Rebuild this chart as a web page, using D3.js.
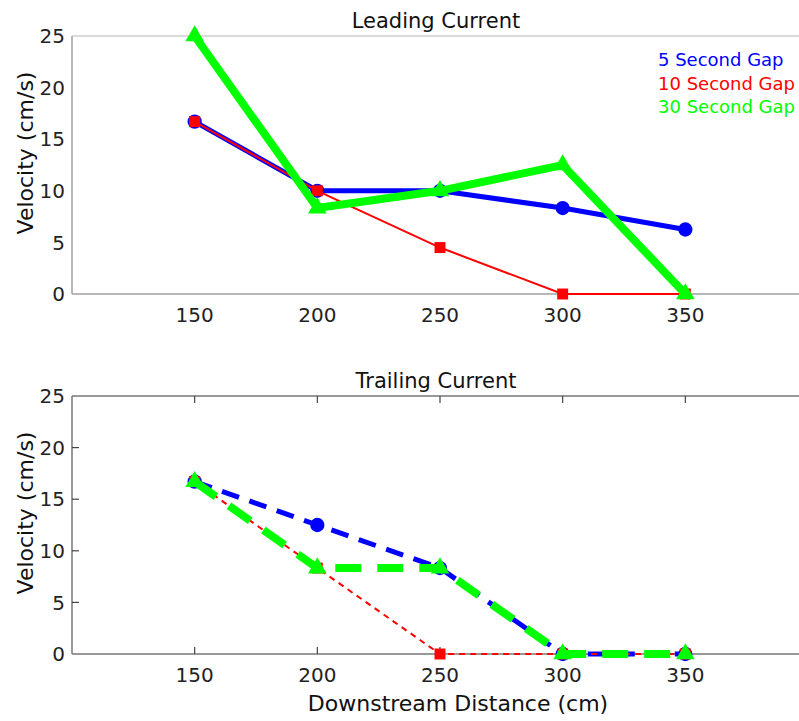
<!DOCTYPE html>
<html>
<head>
<meta charset="utf-8">
<script src="https://cdn.jsdelivr.net/npm/d3@7"></script>
<style>
  body { margin: 0; background: #fff; }
  svg text { font-family: "DejaVu Sans", Verdana, sans-serif; }
</style>
</head>
<body>
<script>
// distances along the flume (cm)
const distances = [150, 200, 250, 300, 350];
const xTicks = [150, 200, 250, 300, 350];
const yTicks = [0, 5, 10, 15, 20, 25];
const seriesNames = ["5 Second Gap", "10 Second Gap", "30 Second Gap"];

// leading current velocities (cm/s)
const lead5 = [16.7, 10, 10, 8.33, 6.25];
const lead10 = [16.7, 10, 4.5, 0, 0];
const lead30 = [25, 8.33, 10, 12.5, 0];

// trailing current velocities (cm/s)
const trail5 = [16.7, 12.5, 8.33, 0, 0];
const trail10 = [16.7, 8.33, 0, 0, 0];
const trail30 = [16.7, 8.33, 8.33, 0, 0];

const W = 799, H = 721;
const svg = d3.select("body").append("svg")
    .attr("width", W)
    .attr("height", H);

const x = d3.scaleLinear().domain([100, 400]).range([72, 808]);

// styles per series: blue circles, red squares, green triangles
const styles = [
    {color: "#0000ff", width: 5, dash: "18,11", marker: d3.symbolCircle, size: 160},
    {color: "#ff0000", width: 2, dash: "6,5", marker: d3.symbolSquare, size: 120},
    {color: "#00ff00", width: 8, dash: "26,16", marker: d3.symbolTriangle, size: 150}
];

function panel(top, bottom, title, series, dashed, boxed) {
    let y = d3.scaleLinear().domain([0, 25]).range([bottom, top]);
    let g = svg.append("g");
    let axisCol = boxed ? "#777" : "#a0a0a0";

    // axes box
    g.append("line").attr("x1", x.range()[0]).attr("x2", W)
        .attr("y1", top).attr("y2", top)
        .attr("stroke", boxed ? "#777" : "#cfcfcf").attr("stroke-width", 1.5);
    g.append("line").attr("x1", x.range()[0]).attr("x2", W)
        .attr("y1", bottom).attr("y2", bottom)
        .attr("stroke", axisCol).attr("stroke-width", 1.5);
    g.append("line").attr("x1", x.range()[0]).attr("x2", x.range()[0])
        .attr("y1", top).attr("y2", bottom)
        .attr("stroke", axisCol).attr("stroke-width", 1.5);

    // y tick labels
    g.selectAll(".ylab").data(yTicks).join("text")
        .attr("x", 65).attr("y", d => y(d))
        .attr("dy", "0.36em")
        .attr("text-anchor", "end")
        .attr("font-size", 20)
        .attr("fill", "#222")
        .text(d => d);

    // x tick labels
    g.selectAll(".xlab").data(xTicks).join("text")
        .attr("x", d => x(d)).attr("y", bottom + 21)
        .attr("dy", "0.36em")
        .attr("text-anchor", "middle")
        .attr("font-size", 20)
        .attr("fill", "#222")
        .text(d => d);

    if (boxed) {
        // inward tick marks
        g.selectAll(".tt").data(xTicks).join("line")
            .attr("x1", d => x(d)).attr("x2", d => x(d))
            .attr("y1", top).attr("y2", top + 7)
            .attr("stroke", "#444").attr("stroke-width", 1.2);
        g.selectAll(".tb").data(xTicks).join("line")
            .attr("x1", d => x(d)).attr("x2", d => x(d))
            .attr("y1", bottom).attr("y2", bottom - 7)
            .attr("stroke", "#444").attr("stroke-width", 1.2);
        g.selectAll(".tl").data(yTicks.slice(1, -1)).join("line")
            .attr("x1", x.range()[0]).attr("x2", x.range()[0] + 7)
            .attr("y1", d => y(d)).attr("y2", d => y(d))
            .attr("stroke", "#444").attr("stroke-width", 1.2);
    }

    // title
    g.append("text")
        .attr("x", 436).attr("y", top - 8)
        .attr("text-anchor", "middle")
        .attr("font-size", 21)
        .attr("fill", "#111")
        .text(title);

    // y label
    g.append("text")
        .attr("transform", "translate(25," + ((top + bottom) / 2 - 12) + ") rotate(-90)")
        .attr("dy", "0.36em")
        .attr("text-anchor", "middle")
        .attr("font-size", 22)
        .attr("fill", "#111")
        .text("Velocity (cm/s)");

    let line = d3.line().x((d, i) => x(distances[i])).y(d => y(d));

    series.forEach((vals, k) => {
        let s = styles[k];
        g.append("path")
            .datum(vals)
            .attr("d", line)
            .attr("fill", "none")
            .attr("stroke", s.color)
            .attr("stroke-width", s.width)
            .attr("stroke-linejoin", "miter")
            .attr("stroke-dasharray", dashed ? s.dash : null);
        g.selectAll(".m" + k).data(vals).join("path")
            .attr("transform", (d, i) => "translate(" + x(distances[i]) + "," + y(d) + ")")
            .attr("d", d3.symbol().type(s.marker).size(s.size))
            .attr("fill", s.color);
    });
    return g;
}

let top1 = panel(36, 294, "Leading Current", [lead5, lead10, lead30], false, false);
panel(396, 654, "Trailing Current", [trail5, trail10, trail30], true, true);

// legend in top panel
top1.selectAll(".leg").data(seriesNames).join("text")
    .attr("x", 658)
    .attr("y", (d, i) => 60 + i * 23.5)
    .attr("dy", "0.36em")
    .attr("font-size", 18)
    .attr("fill", (d, i) => styles[i].color)
    .text(d => d);

// x axis label
svg.append("text")
    .attr("x", 458).attr("y", 703)
    .attr("dy", "0.36em")
    .attr("text-anchor", "middle")
    .attr("font-size", 22)
    .attr("fill", "#111")
    .text("Downstream Distance (cm)");
</script>
</body>
</html>
